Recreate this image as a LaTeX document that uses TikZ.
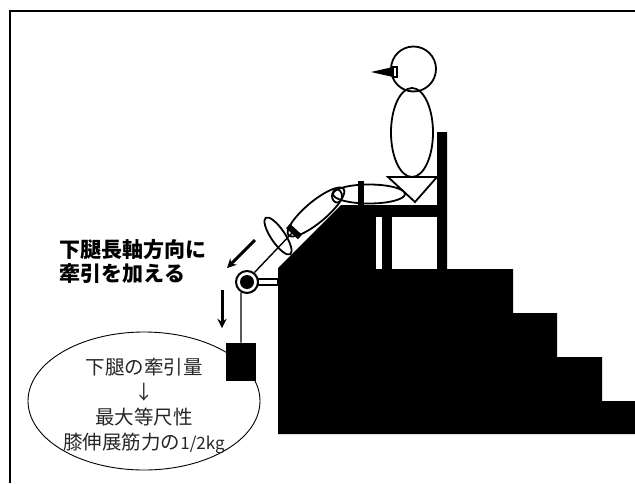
\documentclass[tikz,border=0pt]{standalone}
\usepackage{fontspec}
\newfontfamily\jp{Noto Sans CJK JP}
\usetikzlibrary{shapes.geometric}

\begin{document}
\begin{tikzpicture}[x=1pt, y=-1pt, >=stealth, thick,
  part/.style={draw, line width=1.8, inner sep=0}]
\useasboundingbox (0,0) rectangle (635,483);
\draw[line width=1.5] (635,11) -- (10,11) -- (10,483);

% sitting person
\node[part, circle, minimum size=45] (head) at (413.5,69) {};
\node[part, ellipse, minimum width=42, minimum height=89] (body) at (412,132.5) {};
\fill (371,72) -- (393,67) -- (393,77) -- cycle;
\draw[line width=1.2] (393,67) rectangle (397,77);
\draw[line width=1.8] (388,177) -- (437,177) -- (415,202) -- cycle;
\node[part, ellipse, minimum width=72, minimum height=19] (thigh) at (369,194) {};
\node[part, ellipse, minimum width=72, minimum height=21, rotate=40] (shank) at (316,212) {};
\node[part, ellipse, minimum width=10, minimum height=13] (knee) at (337,196) {};
\fill (358,181) rectangle (364,205);
\draw[line width=6] (288,226) -- (300,237);
\coordinate (cuff) at (293,232);
\node[part, ellipse, minimum width=44, minimum height=14, rotate=-56] (foot) at (278,236) {};

% stairs with the chair
\fill (278,434) -- (278,268) -- (341,205) -- (437,205) -- (437,132) -- (447,132)
  -- (447,269) -- (513,269) -- (513,313) -- (557,313) -- (557,357) -- (602,357)
  -- (602,401) -- (635,401) -- (635,434) -- cycle;
\fill[white] (376,217) rectangle (382,269);
\fill[white] (392,217) rectangle (437,269);

% pulley and rope
\draw[line width=1.2] (258,279) rectangle (278,285);
\node[part, circle, fill=white, line width=2, minimum size=22] (pulley) at (247,282) {};
\fill (pulley) circle (7);
\draw[line width=1.4] (pulley.52) -- (cuff);

% note
\node[draw, ellipse, line width=0.9, minimum width=232, minimum height=138] (note) at (144,401) {};
\node[font=\jp\fontsize{19.5}{25}\selectfont, align=center, text=black!85] (amount) at (144,405.5)
  {下腿の牽引量\\↓\\最大等尺性\\膝伸展筋力の{\fontsize{17}{25}\selectfont 1/2kg}};
\node[fill, minimum width=30, minimum height=38, inner sep=0] (weight) at (241,362) {};
\draw[line width=1.4] (pulley.240) -- (weight.north);

% pulling direction
\node[font=\jp\bfseries\fontsize{21}{24}\selectfont, align=left, anchor=west] (pulltext) at (56,261)
  {下腿長軸方向に\\牽引を加える};
\coordinate (pullA) at (255,240);
\coordinate (pullB) at (227,268);
\coordinate (dropA) at (222,290);
\coordinate (dropB) at (222,328);
\draw[->, line width=3] (pullA) -- (pullB);
\draw[->, line width=3] (dropA) -- (dropB);
\end{tikzpicture}
\end{document}
